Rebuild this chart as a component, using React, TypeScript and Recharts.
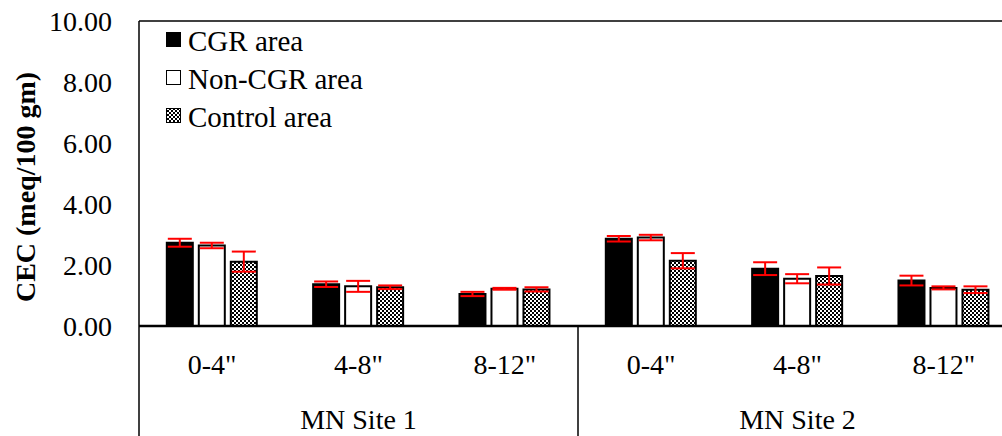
import React from 'react';
import {
  BarChart,
  Bar,
  XAxis,
  YAxis,
  ErrorBar,
  Legend,
  ReferenceLine,
  Label,
} from 'recharts';

// Soil depth intervals and sampling sites
const depths = ['0-4"', '4-8"', '8-12"', '0-4"', '4-8"', '8-12"'];
const sites = ['MN Site 1', 'MN Site 1', 'MN Site 1', 'MN Site 2', 'MN Site 2', 'MN Site 2'];

// Cation exchange capacity (meq/100 gm) with standard errors
const cgrArea = [2.73, 1.37, 1.05, 2.86, 1.88, 1.49];
const cgrAreaErr = [0.13, 0.09, 0.07, 0.09, 0.21, 0.16];
const nonCgrArea = [2.64, 1.3, 1.22, 2.9, 1.55, 1.25];
const nonCgrAreaErr = [0.09, 0.18, 0.03, 0.09, 0.15, 0.05];
const controlArea = [2.11, 1.27, 1.2, 2.14, 1.64, 1.19];
const controlAreaErr = [0.33, 0.06, 0.07, 0.25, 0.28, 0.11];

const yTicks = [0, 2, 4, 6, 8, 10];

const data = depths.map((depth, i) => ({
  depth,
  site: sites[i],
  cgr: cgrArea[i],
  cgrErr: cgrAreaErr[i],
  nonCgr: nonCgrArea[i],
  nonCgrErr: nonCgrAreaErr[i],
  control: controlArea[i],
  controlErr: controlAreaErr[i],
}));

const FONT = '"Liberation Serif", "Times New Roman", serif';
const DEPTH_AXIS_HEIGHT = 60;
const SITE_AXIS_HEIGHT = 50;

const legendItems = [
  { label: 'CGR area', fill: '#000000' },
  { label: 'Non-CGR area', fill: '#ffffff' },
  { label: 'Control area', fill: 'url(#checker)' },
];

const renderLegend = () => (
  <svg width={240} height={120} style={{ display: 'block' }}>
    {legendItems.map((item, i) => (
      <g key={item.label} transform={`translate(0, ${i * 38})`}>
        <rect x={9.5} y={12.5} width={14} height={14} fill={item.fill} stroke="#000" strokeWidth={1} />
        <text x={31} y={31} fontFamily={FONT} fontSize={29} fill="#000">
          {item.label}
        </text>
      </g>
    ))}
  </svg>
);

const DepthTick = (props: any) => {
  const { x, y, payload } = props;
  return (
    <text x={x} y={y + 48} textAnchor="middle" fontFamily={FONT} fontSize={28} fill="#000">
      {payload.value}
    </text>
  );
};

// Site labels, plus the vertical dividers that bound each site group below the plot
const SiteTick = (props: any) => {
  const { x, y, payload, index } = props;
  const half = payload && typeof payload.offset === 'number' ? payload.offset : 0;
  const top = y - DEPTH_AXIS_HEIGHT;
  const bottom = y + SITE_AXIS_HEIGHT;
  return (
    <g>
      {index === 0 && half > 0 && (
        <>
          <line x1={x - half} x2={x - half} y1={top} y2={bottom} stroke="#000" strokeWidth={1.5} />
          <line x1={x + half} x2={x + half} y1={top} y2={bottom} stroke="#000" strokeWidth={1.5} />
        </>
      )}
      <text x={x} y={y + 43} textAnchor="middle" fontFamily={FONT} fontSize={28} fill="#000">
        {payload.value}
      </text>
    </g>
  );
};

const ValueTick = (props: any) => {
  const { x, y, payload } = props;
  return (
    <text x={x} y={y} dy="0.35em" textAnchor="end" fontFamily={FONT} fontSize={28} fill="#000">
      {Number(payload.value).toFixed(2)}
    </text>
  );
};

export default function App() {
  return (
    <div
      style={{
        position: 'absolute',
        left: 0,
        top: 0,
        width: 1002,
        height: 436,
        overflow: 'hidden',
        background: '#fff',
      }}
    >
      <svg width={0} height={0} style={{ position: 'absolute' }}>
        <defs>
          <pattern id="checker" width={4} height={4} patternUnits="userSpaceOnUse">
            <rect width={4} height={4} fill="#fff" />
            <rect x={0} y={0} width={2} height={2} fill="#000" />
            <rect x={2} y={2} width={2} height={2} fill="#000" />
          </pattern>
        </defs>
      </svg>
      <BarChart
        width={1020}
        height={436}
        data={data}
        margin={{ top: 21, right: 3, left: 0, bottom: 0 }}
        barGap={6}
        barCategoryGap="19%"
      >
        <XAxis
          xAxisId={0}
          dataKey="depth"
          height={DEPTH_AXIS_HEIGHT}
          tickLine={false}
          tickSize={0}
          tickMargin={0}
          axisLine={{ stroke: '#000', strokeWidth: 2.5 }}
          tick={<DepthTick />}
          interval={0}
        />
        <XAxis
          xAxisId="site"
          dataKey="site"
          height={SITE_AXIS_HEIGHT}
          allowDuplicatedCategory={false}
          tickLine={false}
          tickSize={0}
          tickMargin={0}
          axisLine={false}
          tick={<SiteTick />}
          interval={0}
        />
        <YAxis
          width={139}
          domain={[0, 10]}
          ticks={yTicks}
          tickLine={false}
          tickSize={0}
          tickMargin={27}
          axisLine={{ stroke: '#000', strokeWidth: 1.5 }}
          tick={<ValueTick />}
          interval={0}
        >
          <Label
            content={() => (
              <text
                x={25}
                y={187}
                transform="rotate(-90, 25, 187)"
                textAnchor="middle"
                dominantBaseline="central"
                fontFamily={FONT}
                fontWeight="bold"
                fontSize={28}
                fill="#000"
              >
                CEC (meq/100 gm)
              </text>
            )}
          />
        </YAxis>
        <ReferenceLine y={10} stroke="#000" strokeWidth={1.5} ifOverflow="visible" />
        <Legend
          layout="vertical"
          align="center"
          verticalAlign="middle"
          content={renderLegend}
          wrapperStyle={{ left: 157, top: 20, width: 240, height: 120 }}
        />
        <Bar dataKey="cgr" name="CGR area" fill="#000" stroke="#000" strokeWidth={2} isAnimationActive={false}>
          <ErrorBar dataKey="cgrErr" stroke="#ff0000" strokeWidth={2} width={12} isAnimationActive={false} />
        </Bar>
        <Bar dataKey="nonCgr" name="Non-CGR area" fill="#fff" stroke="#000" strokeWidth={2} isAnimationActive={false}>
          <ErrorBar dataKey="nonCgrErr" stroke="#ff0000" strokeWidth={2} width={12} isAnimationActive={false} />
        </Bar>
        <Bar
          dataKey="control"
          name="Control area"
          fill="url(#checker)"
          stroke="#000"
          strokeWidth={2}
          isAnimationActive={false}
        >
          <ErrorBar dataKey="controlErr" stroke="#ff0000" strokeWidth={2} width={12} isAnimationActive={false} />
        </Bar>
      </BarChart>
    </div>
  );
}
